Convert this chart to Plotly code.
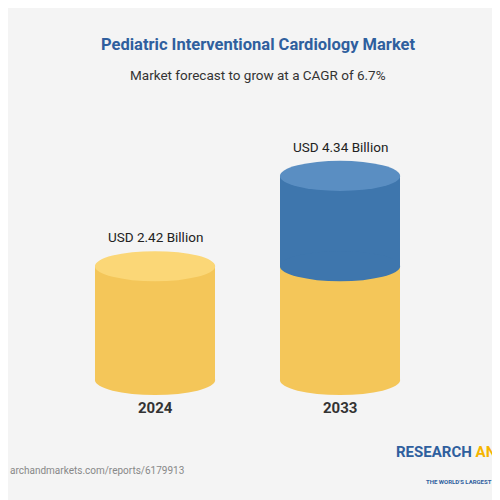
import plotly.graph_objects as go

years = ["2024", "2033"]
xpos = [0, 1]
values = [2.42, 4.34]
base_part = [2.42, 2.42]
growth_part = [0, 1.92]
labels = ["USD 2.42 Billion", "USD 4.34 Billion"]

yellow = "#f4c659"
yellow_top = "#fbd777"
blue = "#3e76ad"
blue_top = "#5a8ec2"
w = 0.65
ry = 0.32

fig = go.Figure()
fig.add_bar(x=xpos, y=base_part, width=w, marker_color=yellow, marker_line_width=0)
fig.add_bar(x=xpos, y=growth_part, width=w, marker_color=blue, marker_line_width=0)

shapes = []
for i, x in enumerate(xpos):
    shapes.append(dict(type="circle", xref="x", yref="y", x0=x - w / 2, x1=x + w / 2,
                       y0=-ry, y1=ry, fillcolor=yellow, line_width=0, layer="below"))
    top = base_part[i] + growth_part[i]
    if growth_part[i] > 0:
        shapes.append(dict(type="circle", xref="x", yref="y", x0=x - w / 2, x1=x + w / 2,
                           y0=base_part[i] - ry, y1=base_part[i] + ry, fillcolor=blue,
                           line_width=0, layer="above"))
    shapes.append(dict(type="circle", xref="x", yref="y", x0=x - w / 2, x1=x + w / 2,
                       y0=top - ry, y1=top + ry,
                       fillcolor=blue_top if growth_part[i] > 0 else yellow_top,
                       line_width=0, layer="above"))

ann = [
    dict(x=0.5, y=0.951, xref="paper", yref="paper", text="<b>Pediatric Interventional Cardiology Market</b>",
         showarrow=False, font=dict(size=16.5, color="#2f5f9e", family="Roboto")),
    dict(x=0.5, y=0.886, xref="paper", yref="paper", text="Market forecast to grow at a CAGR of 6.7%",
         showarrow=False, font=dict(size=13.5, color="#333", family="Roboto")),
    dict(x=0.0, y=0.06, xref="paper", yref="paper", xanchor="left",
         text="archandmarkets.com/reports/6179913", showarrow=False,
         font=dict(size=10, color="#888", family="Roboto")),
    dict(x=1.0, y=0.09, xref="paper", yref="paper", xanchor="right",
         text="<b><span style='color:#2f5f9e'>RESEARCH</span> <span style='color:#f4b400'>AND</span></b>",
         showarrow=False, font=dict(size=15, family="Roboto")),
    dict(x=1.0, y=0.042, xref="paper", yref="paper", xanchor="right",
         text="<b>THE WORLD'S LARGEST MAR</b>", showarrow=False,
         font=dict(size=6, color="#2f5f9e", family="Roboto")),
]
for i, x in enumerate(xpos):
    ann.append(dict(x=x, y=values[i] + ry, yref="y", yanchor="bottom", yshift=4, text=labels[i],
                    showarrow=False, font=dict(size=13.5, color="#222", family="Roboto")))
    ann.append(dict(x=x, y=-0.6, yref="y", yanchor="middle", text="<b>" + years[i] + "</b>",
                    showarrow=False, font=dict(size=15, color="#333", family="Roboto")))

fig.update_layout(
    width=500, height=500, barmode="stack", showlegend=False,
    margin=dict(l=0, r=0, t=0, b=0),
    paper_bgcolor="#f4f4f4", plot_bgcolor="rgba(0,0,0,0)",
    xaxis=dict(range=[-0.795, 1.908], visible=False),
    yaxis=dict(range=[-2.72, 7.91], visible=False),
    shapes=shapes, annotations=ann,
)
fig.write_html("out.html")
